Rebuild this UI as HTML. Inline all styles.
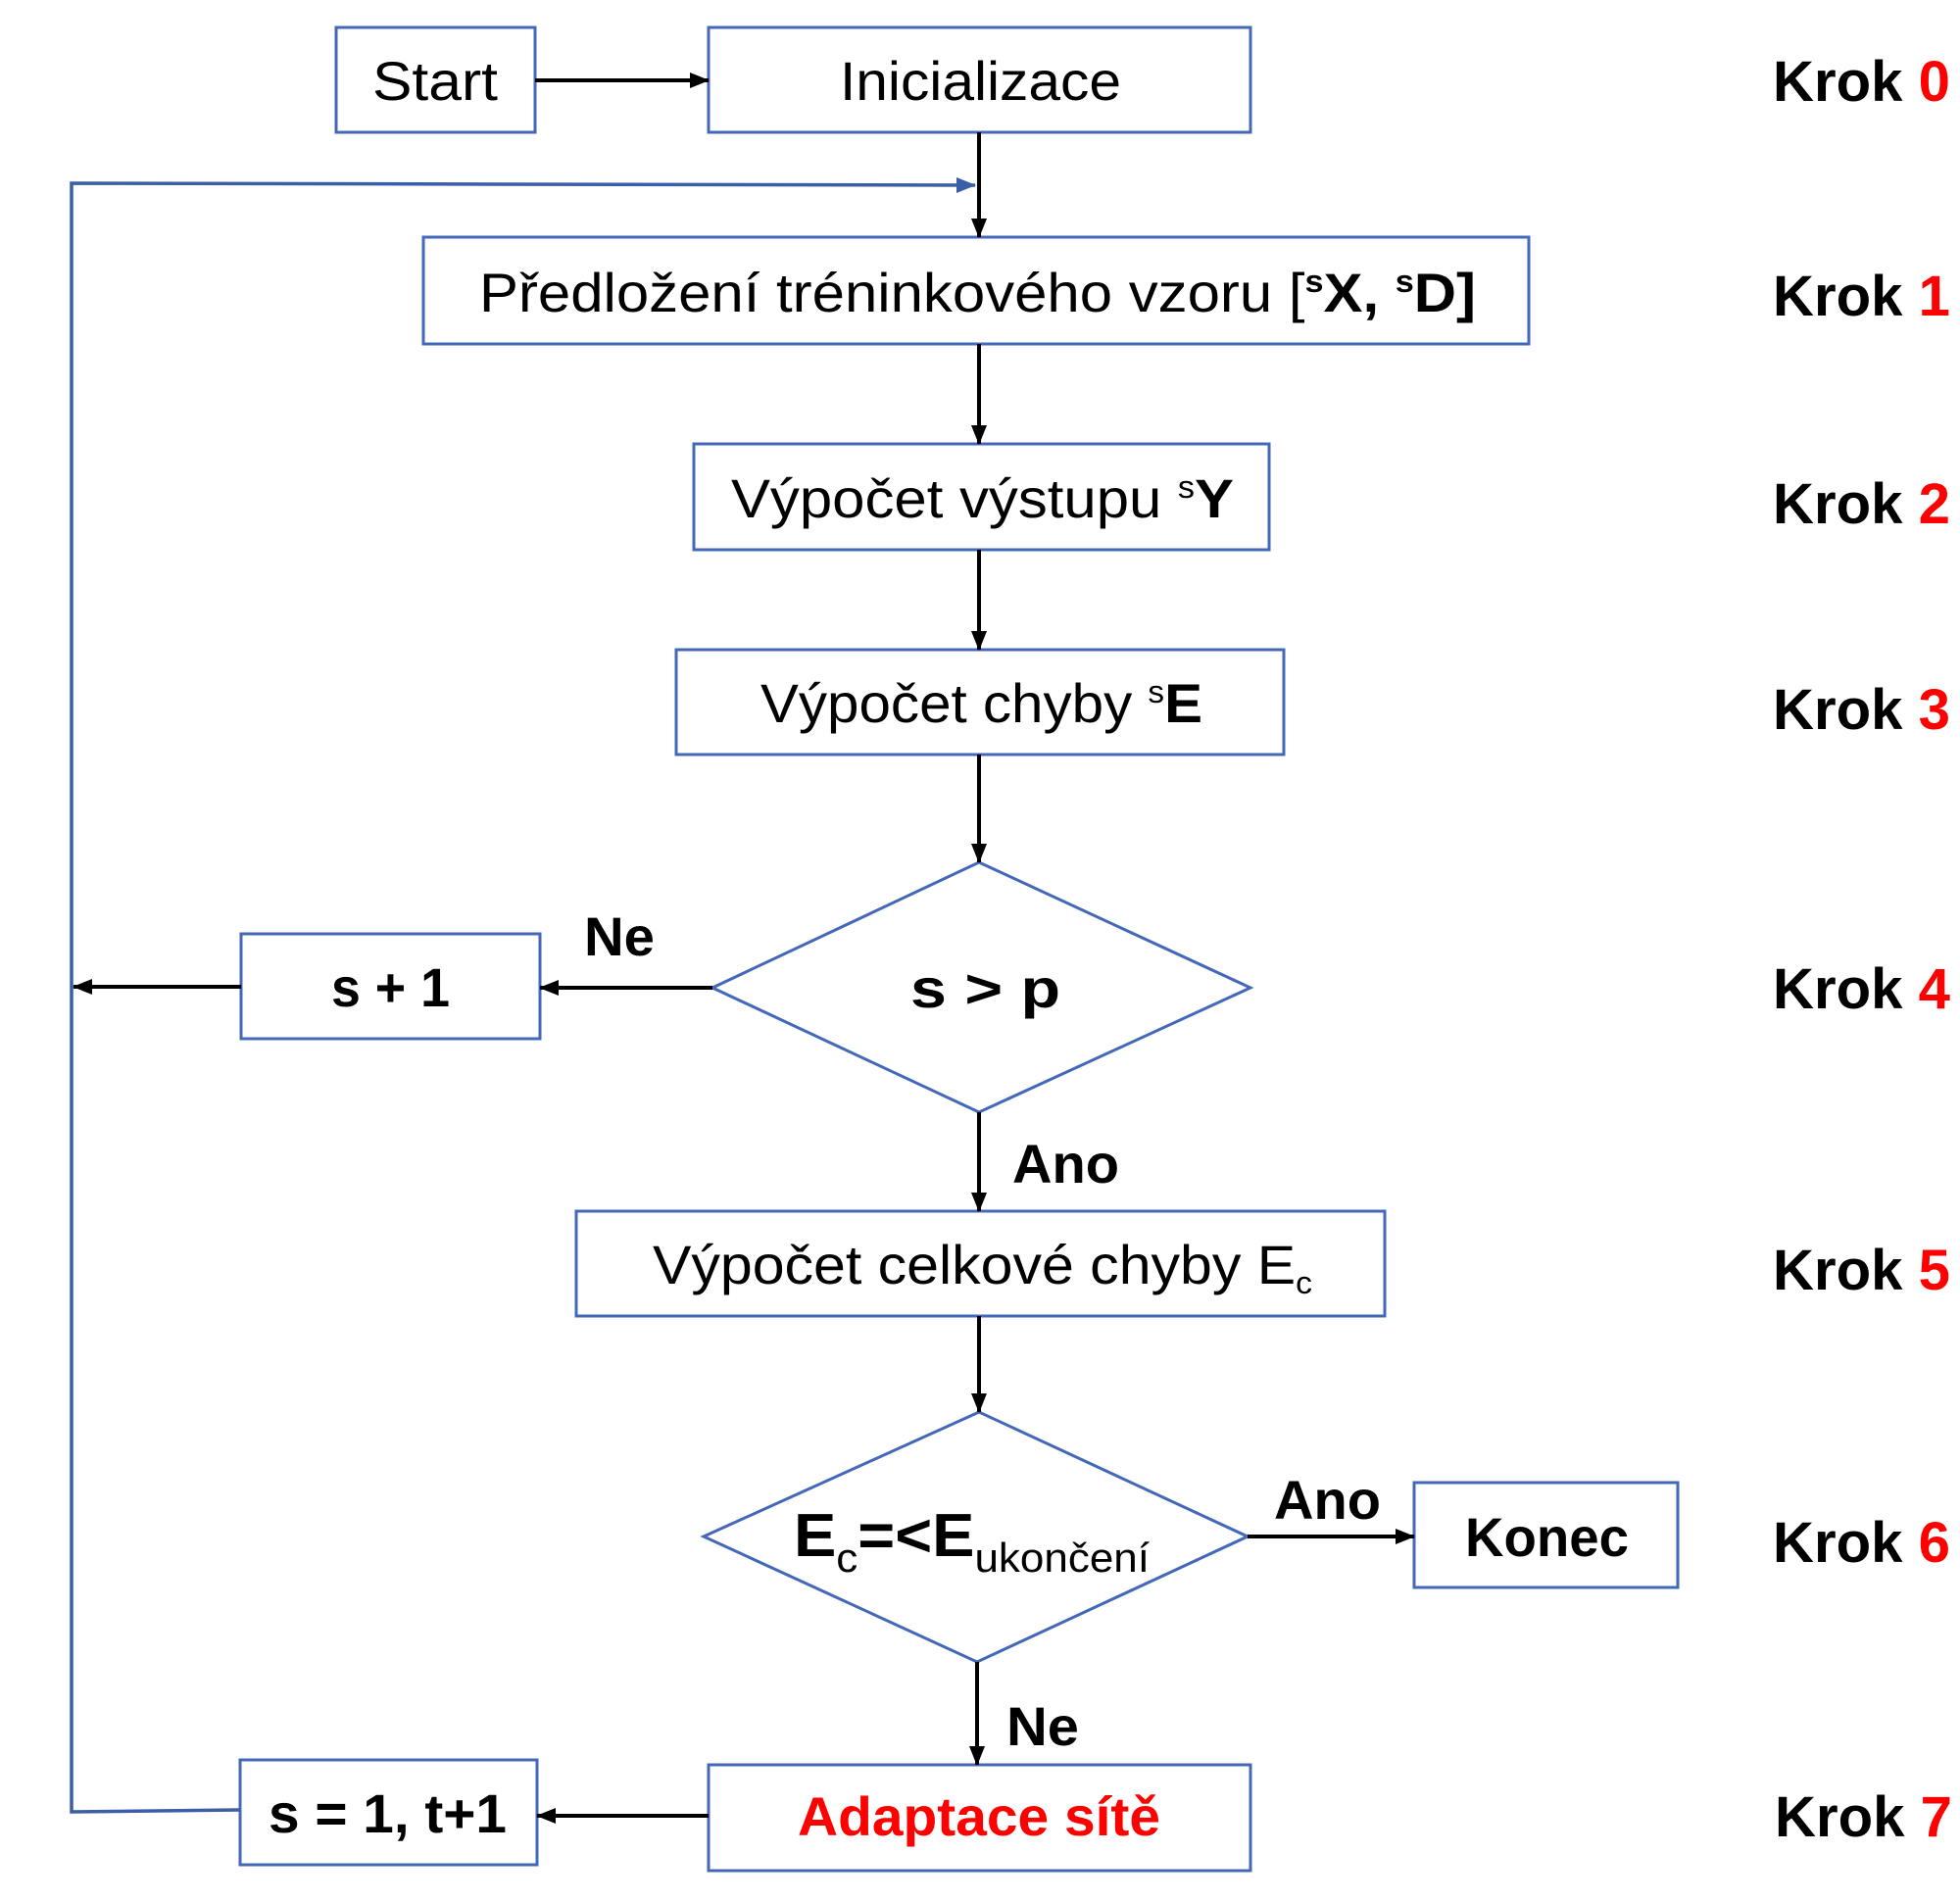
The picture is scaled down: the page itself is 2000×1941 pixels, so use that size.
<!DOCTYPE html>
<html><head><meta charset="utf-8"><style>
html,body{margin:0;padding:0;background:#fff}
svg{display:block}
text{font-family:"Liberation Sans",sans-serif}
.r{font-size:56px;fill:#000}
.b{font-size:56px;font-weight:bold;fill:#000}
.k{font-size:58px;font-weight:bold;fill:#000}
.red{fill:#ff0000}
</style></head><body>
<svg width="2000" height="1941" viewBox="0 0 2000 1941" xmlns="http://www.w3.org/2000/svg">
<defs>
<marker id="abb" markerWidth="20" markerHeight="16" refX="19" refY="8" orient="auto" markerUnits="userSpaceOnUse" viewBox="0 0 20 16"><path d="M0,0 L20,8 L0,16 Z" fill="#000"/></marker>
<marker id="bl" markerWidth="20" markerHeight="16" refX="19" refY="8" orient="auto" markerUnits="userSpaceOnUse" viewBox="0 0 20 16"><path d="M0,0 L20,8 L0,16 Z" fill="#3a5ea8"/></marker>
</defs>
<g fill="#fff" stroke="#4468b8" stroke-width="3">
<rect x="343" y="28" width="203" height="107"/>
<rect x="723" y="28" width="553" height="107"/>
<rect x="432" y="242" width="1128" height="109"/>
<rect x="708" y="453" width="587" height="108"/>
<rect x="690" y="663" width="620" height="107"/>
<polygon points="727,1008 999,880 1276,1008 999,1135"/>
<rect x="246" y="953" width="305" height="107"/>
<rect x="588" y="1236" width="825" height="107"/>
<polygon points="718,1568 999,1441 1273,1568 997,1696"/>
<rect x="1443" y="1513" width="269" height="107"/>
<rect x="723" y="1801" width="553" height="108"/>
<rect x="245" y="1796" width="303" height="107"/>
</g>
<polyline points="245,1847 73,1849 73,187 995,189" fill="none" stroke="#3a5ea8" stroke-width="3.5" marker-end="url(#bl)"/>
<g stroke="#000" stroke-width="4" fill="none">
<line x1="546" y1="82" x2="723" y2="82" marker-end="url(#abb)"/>
<line x1="999" y1="135" x2="999" y2="242" marker-end="url(#abb)"/>
<line x1="999" y1="351" x2="999" y2="453" marker-end="url(#abb)"/>
<line x1="999" y1="561" x2="999" y2="663" marker-end="url(#abb)"/>
<line x1="999" y1="770" x2="999" y2="880" marker-end="url(#abb)"/>
<line x1="727" y1="1008" x2="551" y2="1008" marker-end="url(#abb)"/>
<line x1="246" y1="1007" x2="75" y2="1007" marker-end="url(#abb)"/>
<line x1="999" y1="1135" x2="999" y2="1236" marker-end="url(#abb)"/>
<line x1="999" y1="1343" x2="999" y2="1441" marker-end="url(#abb)"/>
<line x1="1273" y1="1568" x2="1443" y2="1568" marker-end="url(#abb)"/>
<line x1="997" y1="1696" x2="997" y2="1801" marker-end="url(#abb)"/>
<line x1="723" y1="1853" x2="548" y2="1853" marker-end="url(#abb)"/>
</g>
<text class="r" x="380" y="102" textLength="128" lengthAdjust="spacingAndGlyphs">Start</text>
<text class="r" x="857" y="102" textLength="287" lengthAdjust="spacingAndGlyphs">Inicializace</text>
<text class="r" x="489" y="318" textLength="1017" lengthAdjust="spacingAndGlyphs">Předložení tréninkového vzoru [<tspan font-size="32" dy="-20" font-weight="bold">s</tspan><tspan dy="20" font-weight="bold">X, </tspan><tspan font-size="32" dy="-20" font-weight="bold">s</tspan><tspan dy="20" font-weight="bold">D]</tspan></text>
<text class="r" x="746" y="528" textLength="513" lengthAdjust="spacingAndGlyphs">Výpočet výstupu <tspan font-size="32" dy="-20">s</tspan><tspan dy="20" font-weight="bold">Y</tspan></text>
<text class="r" x="776" y="737" textLength="451" lengthAdjust="spacingAndGlyphs">Výpočet chyby <tspan font-size="32" dy="-20">s</tspan><tspan dy="20" font-weight="bold">E</tspan></text>
<text class="b" x="929" y="1028" textLength="153" lengthAdjust="spacingAndGlyphs">s &gt; p</text>
<text class="b" x="338" y="1027" textLength="121" lengthAdjust="spacingAndGlyphs">s + 1</text>
<text class="b" x="596" y="975" textLength="72" lengthAdjust="spacingAndGlyphs">Ne</text>
<text class="b" x="1033" y="1207" textLength="109" lengthAdjust="spacingAndGlyphs">Ano</text>
<text class="r" x="666" y="1310" textLength="673" lengthAdjust="spacingAndGlyphs">Výpočet celkové chyby E<tspan font-size="32" dy="10">c</tspan></text>
<text x="810" y="1588" font-size="62" font-weight="bold" textLength="363" lengthAdjust="spacingAndGlyphs">E<tspan font-size="42" font-weight="normal" dy="16">c</tspan><tspan dy="-16">=&lt;E</tspan><tspan font-size="42" font-weight="normal" dy="16">ukončení</tspan></text>
<text class="b" x="1300" y="1550" textLength="109" lengthAdjust="spacingAndGlyphs">Ano</text>
<text class="b" x="1495" y="1588" textLength="167" lengthAdjust="spacingAndGlyphs">Konec</text>
<text class="b" x="1027" y="1781" textLength="74" lengthAdjust="spacingAndGlyphs">Ne</text>
<text class="b red" x="814" y="1873" textLength="370" lengthAdjust="spacingAndGlyphs">Adaptace sítě</text>
<text class="b" x="274" y="1870" textLength="243" lengthAdjust="spacingAndGlyphs">s = 1, t+1</text>
<text class="k" x="1809" y="103" textLength="181" lengthAdjust="spacingAndGlyphs">Krok <tspan class="red">0</tspan></text>
<text class="k" x="1809" y="322" textLength="181" lengthAdjust="spacingAndGlyphs">Krok <tspan class="red">1</tspan></text>
<text class="k" x="1809" y="534" textLength="181" lengthAdjust="spacingAndGlyphs">Krok <tspan class="red">2</tspan></text>
<text class="k" x="1809" y="744" textLength="181" lengthAdjust="spacingAndGlyphs">Krok <tspan class="red">3</tspan></text>
<text class="k" x="1809" y="1029" textLength="181" lengthAdjust="spacingAndGlyphs">Krok <tspan class="red">4</tspan></text>
<text class="k" x="1809" y="1316" textLength="181" lengthAdjust="spacingAndGlyphs">Krok <tspan class="red">5</tspan></text>
<text class="k" x="1809" y="1594" textLength="181" lengthAdjust="spacingAndGlyphs">Krok <tspan class="red">6</tspan></text>
<text class="k" x="1811" y="1874" textLength="181" lengthAdjust="spacingAndGlyphs">Krok <tspan class="red">7</tspan></text>
</svg>
</body></html>
